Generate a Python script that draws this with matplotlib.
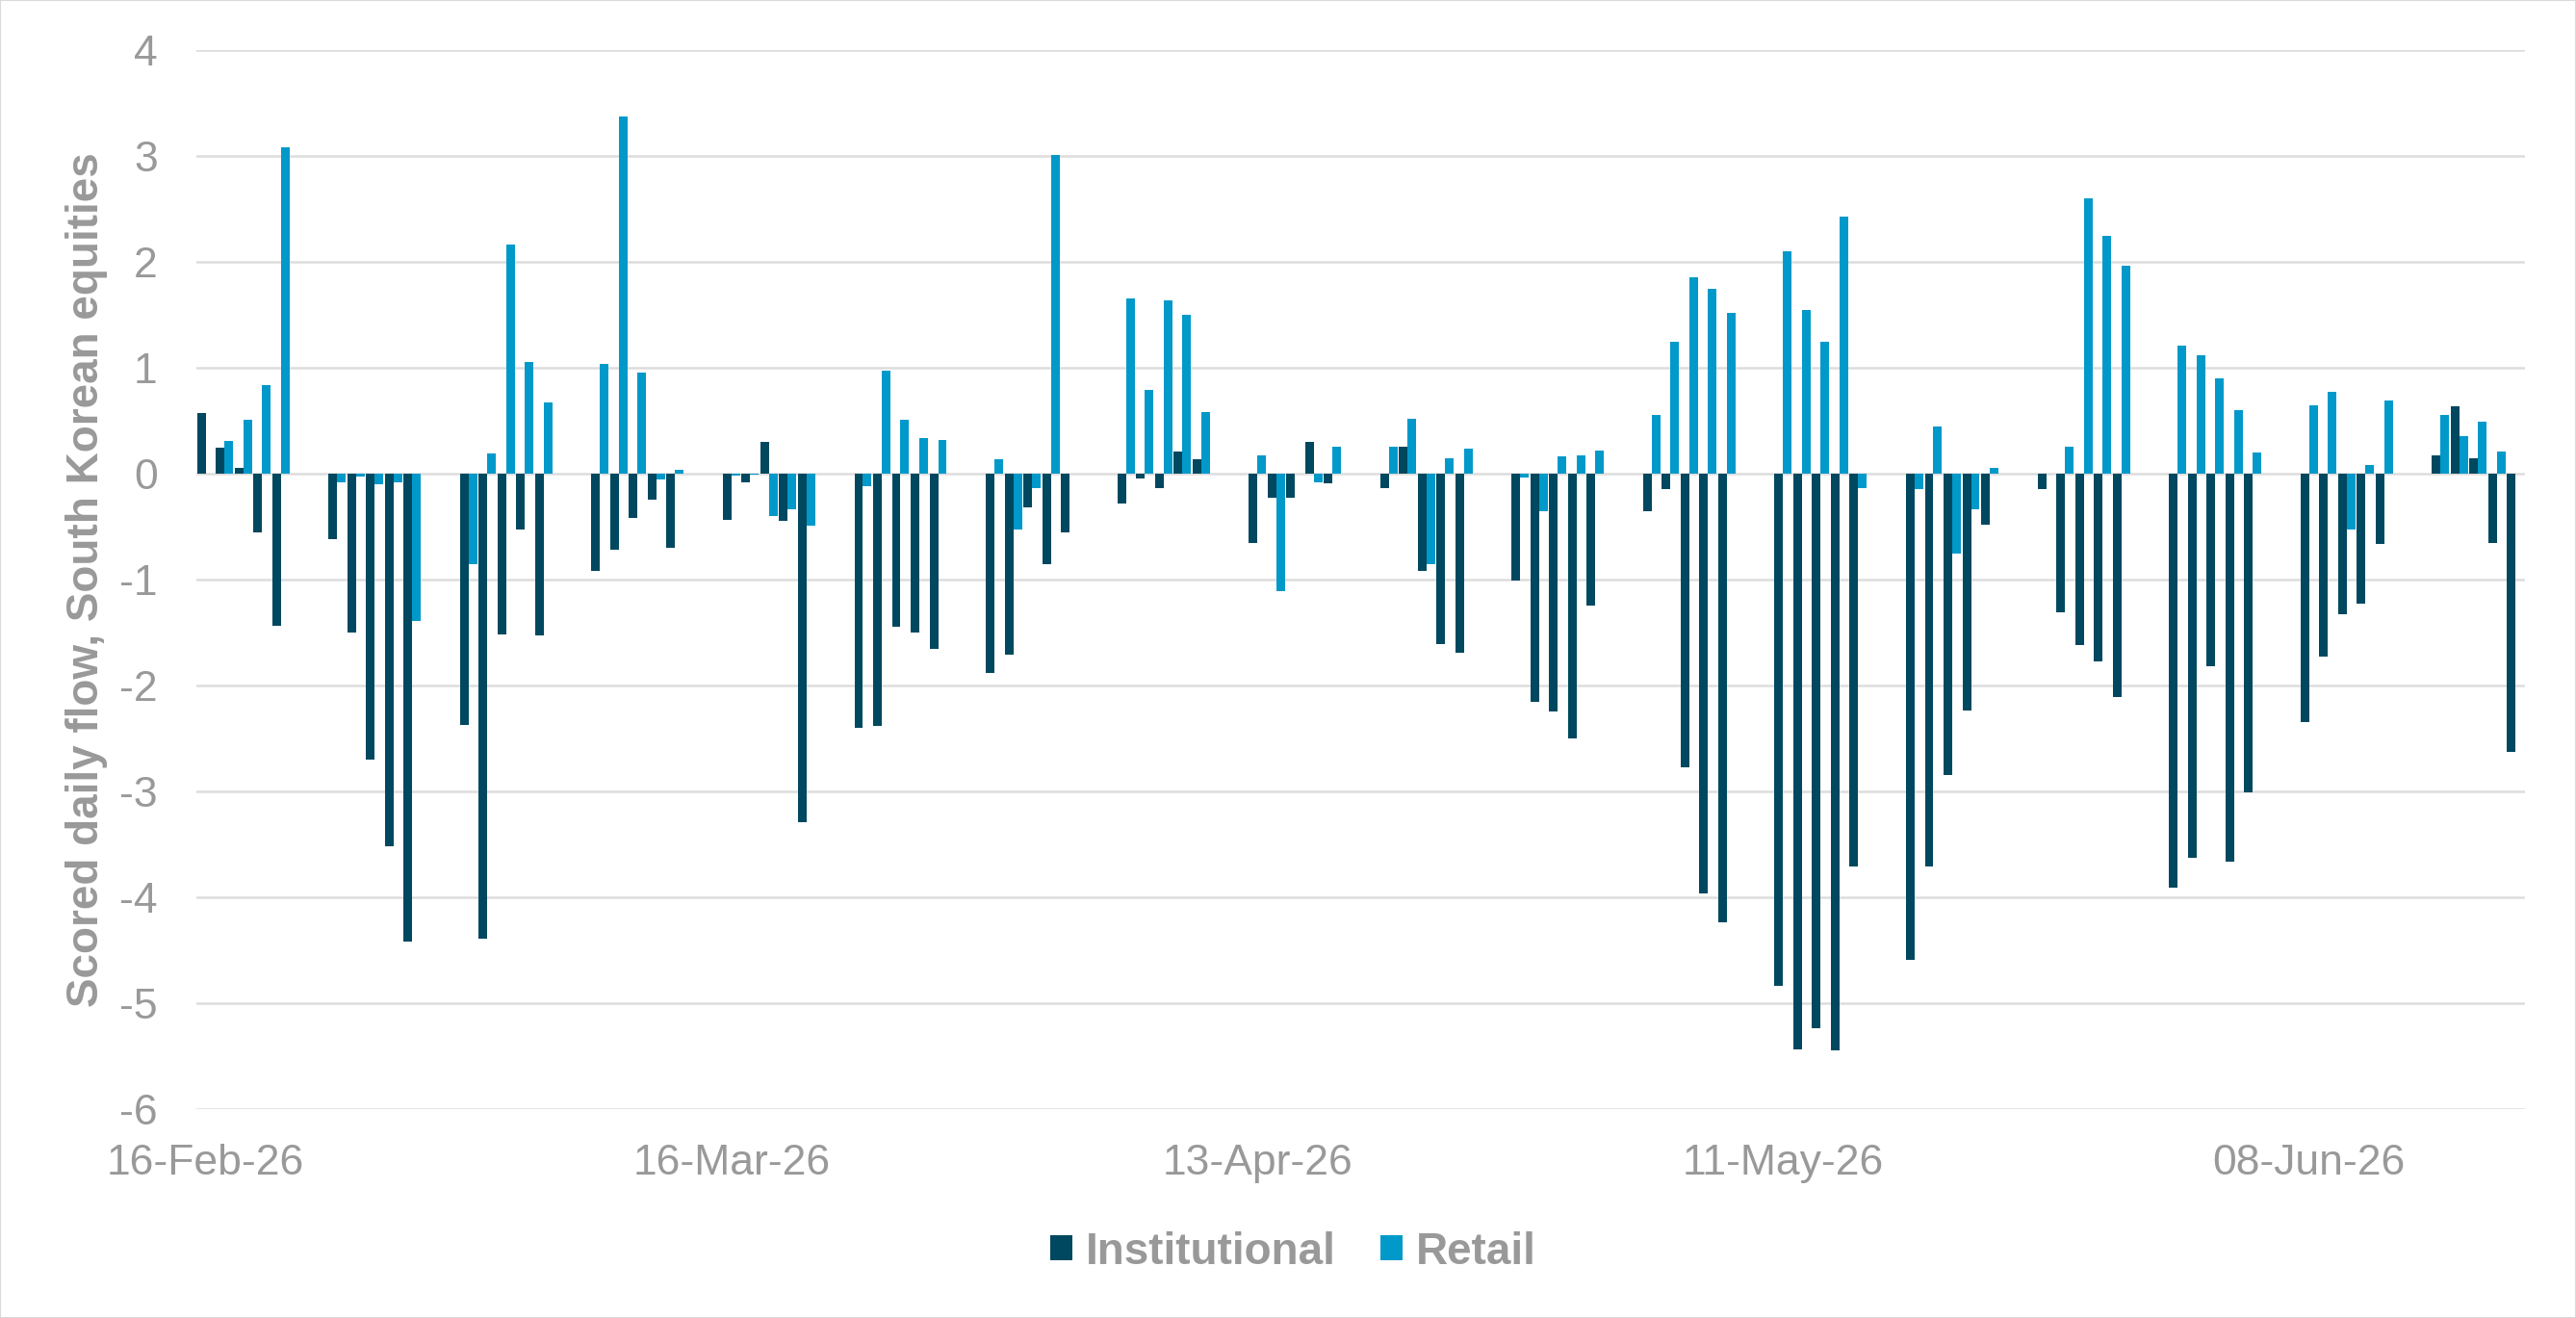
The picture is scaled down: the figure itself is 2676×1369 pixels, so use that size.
import numpy as np
import pandas as pd
import matplotlib
matplotlib.use("Agg")
import matplotlib.pyplot as plt
import matplotlib.dates as mdates
from matplotlib.patches import Rectangle

plt.rcParams['font.family'] = ['Liberation Sans', 'DejaVu Sans']
plt.rcParams['axes.unicode_minus'] = False

# trading days, 16-Feb-26 to 19-Jun-26 (weekdays)
dates = pd.bdate_range("2026-02-16", "2026-06-19")

# scored daily flows
institutional = [
    0.57, 0.24, 0.05, -0.56, -1.44,
    -0.62, -1.50, -2.70, -3.52, -4.42,
    -2.37, -4.39, -1.52, -0.53, -1.53,
    -0.92, -0.72, -0.42, -0.25, -0.70,
    -0.44, -0.08, 0.30, -0.45, -3.29,
    -2.40, -2.38, -1.45, -1.50, -1.66,
    -1.88, -1.71, -0.32, -0.86, -0.56,
    -0.28, -0.05, -0.14, 0.21, 0.13,
    -0.66, -0.23, -0.23, 0.30, -0.09,
    -0.14, 0.25, -0.92, -1.61, -1.69,
    -1.01, -2.16, -2.25, -2.50, -1.25,
    -0.36, -0.15, -2.77, -3.96, -4.24,
    -4.84, -5.44, -5.24, -5.45, -3.71,
    -4.59, -3.71, -2.85, -2.24, -0.48,
    -0.15, -1.31, -1.62, -1.77, -2.11,
    -3.91, -3.63, -1.82, -3.66, -3.01,
    -2.35, -1.73, -1.33, -1.23, -0.67,
    0.17, 0.63, 0.14, -0.66, -2.63,
]
retail = [
    0.00, 0.31, 0.51, 0.83, 3.08,
    -0.08, -0.03, -0.10, -0.08, -1.39,
    -0.86, 0.19, 2.16, 1.05, 0.67,
    1.03, 3.37, 0.95, -0.06, 0.03,
    -0.02, -0.01, -0.40, -0.34, -0.49,
    -0.12, 0.97, 0.51, 0.33, 0.32,
    0.13, -0.53, -0.14, 3.01, 0.00,
    1.65, 0.79, 1.63, 1.50, 0.58,
    0.17, -1.11, 0.00, -0.08, 0.25,
    0.25, 0.52, -0.86, 0.14, 0.23,
    -0.04, -0.36, 0.16, 0.17, 0.22,
    0.55, 1.24, 1.85, 1.74, 1.52,
    2.10, 1.54, 1.24, 2.42, -0.14,
    -0.15, 0.44, -0.76, -0.34, 0.05,
    0.00, 0.25, 2.60, 2.24, 1.96,
    1.21, 1.12, 0.90, 0.60, 0.20,
    0.64, 0.77, -0.53, 0.08, 0.69,
    0.55, 0.35, 0.49, 0.21, 0.00,
]

tick_dates = pd.date_range("2026-02-16", "2026-06-19", freq="28D")
y_ticks = list(range(-6, 5))

dark = '#00485F'
light = '#0099CA'
grey = '#999999'

fig = plt.figure(figsize=(26.76, 13.69), dpi=100)
ax = fig.add_axes([0.0762, 0.1585, 0.9040, 0.8038])

x = mdates.date2num(dates)
w = 0.46
ax.bar(x - w / 2, institutional, width=w, color=dark, label='Institutional', zorder=3)
ax.bar(x + w / 2, retail, width=w, color=light, label='Retail', zorder=3)

ax.set_xlim(x[0] - 0.5, x[-1] + 0.5)
ax.set_ylim(-6, 4)
ax.set_yticks(y_ticks)
ax.set_xticks(mdates.date2num(tick_dates))
ax.xaxis.set_major_formatter(mdates.DateFormatter('%d-%b-%y'))

ax.grid(axis='y', color='#DDDDDD', linewidth=1.8, zorder=0)
ax.set_axisbelow(True)
for s in ax.spines.values():
    s.set_visible(False)
ax.tick_params(axis='y', length=0, pad=29, labelsize=32, labelcolor=grey)
ax.tick_params(axis='x', length=0, pad=26, labelsize=32, labelcolor=grey)

ax.set_ylabel('Scored daily flow, South Korean equities', fontsize=33,
              fontweight='bold', color=grey)
ax.yaxis.set_label_coords(-0.038, 0.5)

fig.legend(loc='center', bbox_to_anchor=(0.502, 0.05), ncol=2, frameon=False,
           handlelength=0.5, handleheight=0.5, handletextpad=0.3,
           columnspacing=1.0, prop={'size': 33, 'weight': 'bold'},
           labelcolor=grey)

fig.patches.append(Rectangle((0, 0), 1, 1, transform=fig.transFigure,
                             fill=False, edgecolor='#D9D9D9', linewidth=1.5))

fig.savefig('out.png', dpi=100)
